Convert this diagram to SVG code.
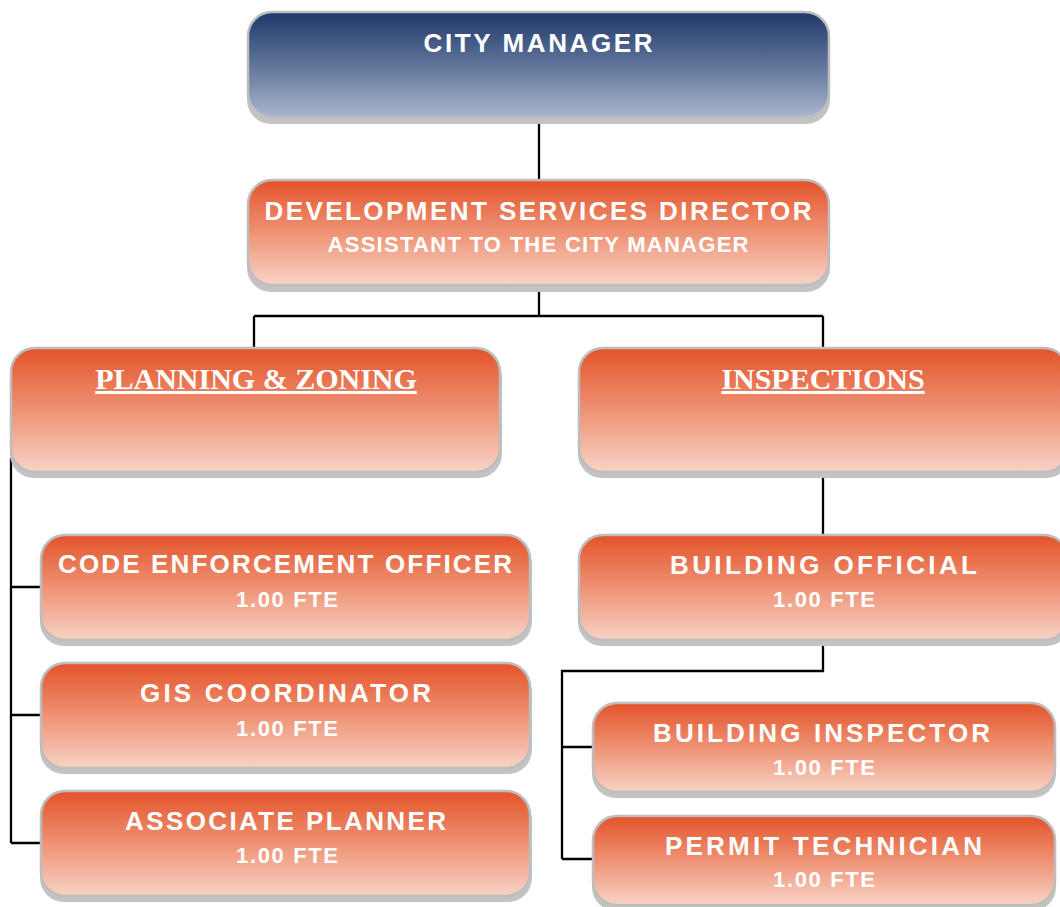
<svg xmlns="http://www.w3.org/2000/svg" width="1060" height="907" viewBox="0 0 1060 907">
<defs>
<linearGradient id="gBlue" x1="0" y1="0" x2="0" y2="1">
<stop offset="0" stop-color="#1f376b"/>
<stop offset="0.5" stop-color="#5f7499"/>
<stop offset="1" stop-color="#aab5cd"/>
</linearGradient>
<linearGradient id="gOrange" x1="0" y1="0" x2="0" y2="1">
<stop offset="0" stop-color="#e4532a"/>
<stop offset="0.5" stop-color="#ee9274"/>
<stop offset="1" stop-color="#f8d3c6"/>
</linearGradient>
</defs>
<style>
.sh{fill:#c3c3c3}
.bx{stroke:#bdbdbd;stroke-width:2.5}
.o{fill:url(#gOrange)}
.b{fill:url(#gBlue)}
.t{font-family:"Liberation Sans",Arial,sans-serif;font-weight:bold;fill:#ffffff;text-anchor:middle}
.t1{font-size:26px}
.t2{font-size:22px}
.s{font-family:"Liberation Serif","Times New Roman",serif;font-weight:bold;font-size:30px;fill:#ffffff;text-anchor:middle;text-decoration:underline}
.c{stroke:#000000;stroke-width:2.3;fill:none}
</style>
<g id="connectors">
<path class="c" d="M539 118 V181"/>
<path class="c" d="M539 287 V316 M254 316 H823 M254 316 V349 M823 316 V349"/>
<path class="c" d="M11 458 V843 M11 587 H42 M11 715 H42 M11 843 H42"/>
<path class="c" d="M823 472 V535"/>
<path class="c" d="M823 640 V671 H562 V859 M562 747 H593 M562 859 H593"/>
</g>
<g id="city-manager">
<rect class="sh" x="247" y="17" width="583" height="107" rx="24"/>
<rect class="b bx" x="248" y="12" width="581" height="105" rx="24"/>
<text class="t t1" x="538" y="52" textLength="229" lengthAdjust="spacing">CITY MANAGER</text>
</g>
<g id="dev-services-director">
<rect class="sh" x="247" y="186" width="583" height="106" rx="24"/>
<rect class="o bx" x="248" y="180" width="581" height="105" rx="24"/>
<text class="t t1" x="538" y="220" textLength="547" lengthAdjust="spacing">DEVELOPMENT SERVICES DIRECTOR</text>
<text class="t t2" x="538" y="252" textLength="421" lengthAdjust="spacing">ASSISTANT TO THE CITY MANAGER</text>
</g>
<g id="planning-zoning">
<rect class="sh" x="10" y="353" width="492" height="125" rx="24"/>
<rect class="o bx" x="11" y="348" width="489" height="124" rx="24"/>
<text class="s" x="256" y="389">PLANNING &amp; ZONING</text>
</g>
<g id="inspections">
<rect class="sh" x="578" y="353" width="492" height="125" rx="24"/>
<rect class="o bx" x="579" y="348" width="489" height="124" rx="24"/>
<text class="s" x="823" y="389">INSPECTIONS</text>
</g>
<g id="code-enforcement-officer">
<rect class="sh" x="40" y="540" width="492" height="106" rx="24"/>
<rect class="o bx" x="41" y="535" width="489" height="105" rx="24"/>
<text class="t t1" x="285" y="573" textLength="454" lengthAdjust="spacing">CODE ENFORCEMENT OFFICER</text>
<text class="t t2" x="287" y="607" textLength="102" lengthAdjust="spacing">1.00 FTE</text>
</g>
<g id="gis-coordinator">
<rect class="sh" x="40" y="668" width="492" height="106" rx="24"/>
<rect class="o bx" x="41" y="663" width="489" height="105" rx="24"/>
<text class="t t1" x="285.5" y="702" textLength="291" lengthAdjust="spacing">GIS COORDINATOR</text>
<text class="t t2" x="287" y="736" textLength="102" lengthAdjust="spacing">1.00 FTE</text>
</g>
<g id="associate-planner">
<rect class="sh" x="40" y="796" width="492" height="106" rx="24"/>
<rect class="o bx" x="41" y="791" width="489" height="105" rx="24"/>
<text class="t t1" x="285.5" y="830" textLength="321" lengthAdjust="spacing">ASSOCIATE PLANNER</text>
<text class="t t2" x="287" y="863" textLength="102" lengthAdjust="spacing">1.00 FTE</text>
</g>
<g id="building-official">
<rect class="sh" x="578" y="540" width="492" height="106" rx="24"/>
<rect class="o bx" x="579" y="535" width="489" height="105" rx="24"/>
<text class="t t1" x="823.5" y="574" textLength="307" lengthAdjust="spacing">BUILDING OFFICIAL</text>
<text class="t t2" x="824" y="607" textLength="102" lengthAdjust="spacing">1.00 FTE</text>
</g>
<g id="building-inspector">
<rect class="sh" x="592" y="708" width="464" height="90" rx="24"/>
<rect class="o bx" x="593" y="703" width="462" height="89" rx="24"/>
<text class="t t1" x="821.5" y="742" textLength="337" lengthAdjust="spacing">BUILDING INSPECTOR</text>
<text class="t t2" x="824" y="775" textLength="102" lengthAdjust="spacing">1.00 FTE</text>
</g>
<g id="permit-technician">
<rect class="sh" x="592" y="821" width="464" height="90" rx="24"/>
<rect class="o bx" x="593" y="816" width="462" height="89" rx="24"/>
<text class="t t1" x="823.5" y="855" textLength="317" lengthAdjust="spacing">PERMIT TECHNICIAN</text>
<text class="t t2" x="824" y="887" textLength="102" lengthAdjust="spacing">1.00 FTE</text>
</g>
</svg>
